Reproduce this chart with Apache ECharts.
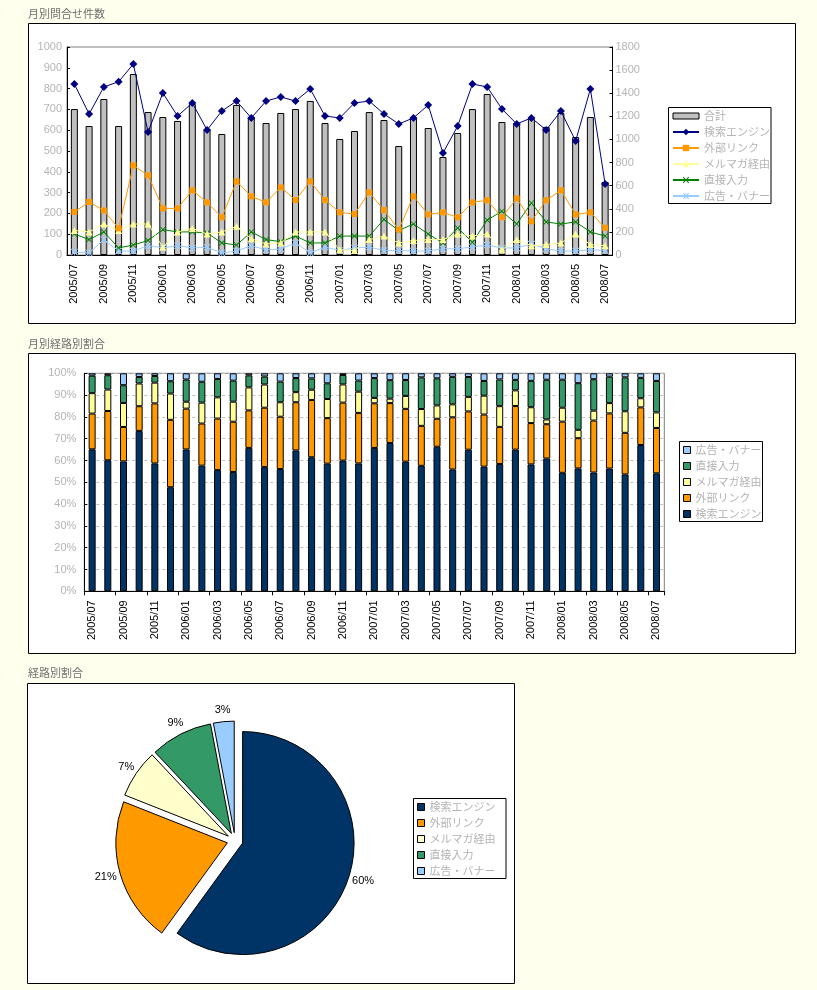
<!DOCTYPE html>
<html><head><meta charset="utf-8">
<script src="https://cdn.jsdelivr.net/npm/echarts@6/dist/echarts.min.js"></script>
<style>
html,body{margin:0;padding:0;background:#FFFFEE;}
.c{position:absolute;left:0;width:817px;height:330px;}
#c1{top:0}#c2{top:330px}#c3{top:660px}
</style></head><body>
<div id="c1" class="c"></div><div id="c2" class="c"></div><div id="c3" class="c"></div>
<script>
// ---------- data ----------
const months = ['2005/07','2005/08','2005/09','2005/10','2005/11','2005/12',
 '2006/01','2006/02','2006/03','2006/04','2006/05','2006/06','2006/07','2006/08','2006/09','2006/10','2006/11','2006/12',
 '2007/01','2007/02','2007/03','2007/04','2007/05','2007/06','2007/07','2007/08','2007/09','2007/10','2007/11','2007/12',
 '2008/01','2008/02','2008/03','2008/04','2008/05','2008/06','2008/07'];
const seriesNames = ['検索エンジン','外部リンク','メルマガ経由','直接入力','広告・バナー'];
const totalName = '合計';
const totalCounts = [1263,1116,1350,1116,1566,1237,1194,1160,1307,1084,1047,1298,1194,1142,1229,1263,1333,1142,1004,1073,1237,1168,943,1186,1099,848,1056,1263,1393,1151,1142,1177,1108,1229,1021,1194,632];
const navyCounts = [822,678,808,833,918,591,779,668,731,601,692,740,659,740,760,740,798,668,659,731,740,678,630,659,721,490,620,822,808,702,630,659,601,692,548,798,341];
const orangeCounts = [207,255,214,128,431,383,224,224,311,253,181,354,282,253,325,264,354,264,205,197,301,216,122,282,195,205,181,253,263,181,272,162,263,311,195,205,131];
const yellowCounts = [118,111,149,118,149,149,38,111,128,101,111,138,78,53,58,111,111,111,25,22,74,91,58,70,74,74,101,91,101,25,74,45,50,58,101,50,45];
const greenCounts = [101,74,111,34,48,70,122,111,111,106,58,48,111,74,64,91,58,58,91,91,91,171,118,149,101,58,130,61,168,210,149,250,159,149,159,111,91];
const blueCounts = [14,10,74,19,19,45,34,45,34,37,10,19,45,25,29,58,10,38,22,34,38,22,22,19,19,30,30,38,48,34,34,53,30,19,19,25,22];
const pieShares = [60,21,7,9,3];
const titles = ['月別問合せ件数','月別経路別割合','経路別割合'];

// ---------- styles ----------
const JP = '"Noto Sans CJK JP", sans-serif';
const LAT = '"Liberation Sans", Arial, sans-serif';
const blurText = '#b4b4b4';
const lineColors = ['#000080','#FF9900','#FFFF99','#008000','#99CCFF'];
const barColors = ['#003366','#FF9900','#FFFF99','#339966','#99CCFF'];
const pieColors = ['#003366','#FF9900','#FFFFCC','#339966','#99CCFF'];
const xPath = 'path://M0,1L1,0L5,4L9,0L10,1L6,5L10,9L9,10L5,6L1,10L0,9L4,5Z';
const starPath = 'path://M0,1L1,0L5,4L9,0L10,1L6,5L10,9L9,10L5,6L1,10L0,9L4,5ZM4.4,0L5.6,0L5.6,10L4.4,10Z';
const symbols = ['diamond','rect','triangle',xPath,starPath];
const symbolSizes = [8,6,7,6,7];
const compData = [navyCounts,orangeCounts,yellowCounts,greenCounts,blueCounts];
const plain = v => String(v);

function frame(x,y,w,h){
  return {type:'rect', z:-10, shape:{x:x,y:y,width:w,height:h}, style:{fill:'#fff', stroke:'#000', lineWidth:1}};
}
function box(x,y,w,h){
  return {type:'rect', z:-5, shape:{x:x,y:y,width:w,height:h}, style:{fill:'#fff', stroke:'#000', lineWidth:1}};
}
function titleOpt(t,top){
  return {text:t, left:28, top:top, padding:0, textStyle:{fontSize:11, color:'#707070', fontWeight:'normal', fontFamily:JP}};
}

// ---------- chart 1 ----------
const c1 = echarts.init(document.getElementById('c1'), null, {renderer:'canvas'});
const s1 = [{
  name: totalName, type:'bar', yAxisIndex:1, data: totalCounts, barWidth:7,
  itemStyle:{color:'#C0C0C0', borderColor:'#000', borderWidth:1}, z:1
}];
seriesNames.forEach((n,i)=>{
  s1.push({name:n, type:'line', yAxisIndex:0, data: compData[i], symbol:symbols[i], symbolSize:symbolSizes[i],
    showAllSymbol:true, lineStyle:{color:lineColors[i], width:1}, itemStyle:{color:lineColors[i]}, z:3+ (4-i)});
});
c1.setOption({
  animation:false,
  title: titleOpt(titles[0], 8),
  graphic:[frame(28.5,23.5,767,300), box(668.5,107.5,102.5,96)],
  grid:{left:67, top:47, width:545.5, height:208, show:true, borderColor:'#808080', borderWidth:1, backgroundColor:'#fff', outerBoundsMode:'none'},
  legend:{orient:'vertical', left:672, top:110, padding:0, itemWidth:26, itemHeight:8, itemGap:4,
    textStyle:{fontSize:11, lineHeight:12, color:blurText, fontFamily:JP},
    data:[{name:totalName, icon:'path://M0,0H26V6H0Z', itemStyle:{borderColor:'#000', borderWidth:1}}].concat(seriesNames)},
  xAxis:{type:'category', data:months, boundaryGap:true,
    axisLine:{lineStyle:{color:'#000', width:1}}, axisTick:{show:false},
    axisLabel:{interval:1, rotate:90, fontSize:11, color:'#000', margin:9, fontFamily:LAT}},
  yAxis:[
    {type:'value', min:0, max:1000, interval:100, position:'left',
      axisLine:{show:true, lineStyle:{color:'#000'}}, axisTick:{show:true, inside:true, length:3, lineStyle:{color:'#000'}},
      splitLine:{show:false}, axisLabel:{formatter:plain, fontSize:11, color:blurText, margin:5, fontFamily:LAT}},
    {type:'value', min:0, max:1800, interval:200, position:'right',
      axisLine:{show:true, lineStyle:{color:'#000'}}, axisTick:{show:true, inside:true, length:3, lineStyle:{color:'#000'}},
      splitLine:{show:false}, axisLabel:{formatter:plain, fontSize:11, color:blurText, margin:3, fontFamily:LAT}}
  ],
  series:s1
});

// ---------- chart 2 ----------
const c2 = echarts.init(document.getElementById('c2'));
const monthTotals = months.map((m,j)=>compData.reduce((a,arr)=>a+arr[j],0));
const s2 = seriesNames.map((n,i)=>({
  name:n, type:'bar', stack:'share', barWidth:7,
  data: compData[i].map((v,j)=> v/monthTotals[j]*100),
  itemStyle:{color:barColors[i], borderColor:'#000', borderWidth:1}
}));
c2.setOption({
  animation:false,
  title: titleOpt(titles[1], 8),
  graphic:[frame(28.5,23.5,767,300), box(679.5,111.5,83,80)],
  grid:{left:84.3, top:43.3, width:580, height:218, show:true, borderColor:'#808080', borderWidth:1, backgroundColor:'#fff', outerBoundsMode:'none'},
  legend:{orient:'vertical', left:683, top:114, padding:0, itemWidth:7, itemHeight:7, itemGap:4, icon:'rect',
    itemStyle:{borderColor:'#000', borderWidth:1},
    textStyle:{fontSize:11, lineHeight:12, color:blurText, fontFamily:JP},
    data: seriesNames.slice().reverse()},
  xAxis:{type:'category', data:months, boundaryGap:true,
    axisLine:{lineStyle:{color:'#000'}}, axisTick:{show:true, interval:1, length:4, lineStyle:{color:'#000'}},
    axisLabel:{interval:1, rotate:90, fontSize:11, color:'#000', margin:9, fontFamily:LAT}},
  yAxis:{type:'value', min:0, max:100, interval:10,
    axisLine:{show:true, lineStyle:{color:'#000'}}, axisTick:{show:true, inside:true, length:3, lineStyle:{color:'#000'}},
    splitLine:{show:true, lineStyle:{color:'#C0C0C0', type:[3,3]}},
    axisLabel:{formatter:'{value}%', fontSize:11, color:blurText, margin:8, fontFamily:LAT}},
  series:s2
});

// ---------- chart 3 ----------
const c3 = echarts.init(document.getElementById('c3'));
c3.setOption({
  animation:false,
  title: titleOpt(titles[2], 7),
  graphic:[frame(27.5,23.5,487,300), box(413.5,138.5,92.5,80)],
  legend:{orient:'vertical', left:417, top:141, padding:0, itemWidth:7, itemHeight:7, itemGap:4, icon:'rect',
    itemStyle:{borderColor:'#000', borderWidth:1},
    textStyle:{fontSize:11, lineHeight:12, color:blurText, fontFamily:JP},
    data: seriesNames},
  series:[{
    type:'pie', center:[235,180.6], radius:111.5, startAngle:90, clockwise:true,
    selectedMode:'multiple', selectedOffset:8, avoidLabelOverlap:false,
    itemStyle:{borderColor:'#000', borderWidth:1},
    label:{position:'outside', formatter:'{c}%', fontSize:11, color:'#000', fontFamily:LAT, distanceToLabelLine:-8},
    labelLine:{show:false, length:12, length2:0},
    emphasis:{disabled:true},
    data: seriesNames.map((n,i)=>({name:n, value:pieShares[i], selected:true, itemStyle:{color:pieColors[i]}}))
  }]
});
</script>
</body></html>
